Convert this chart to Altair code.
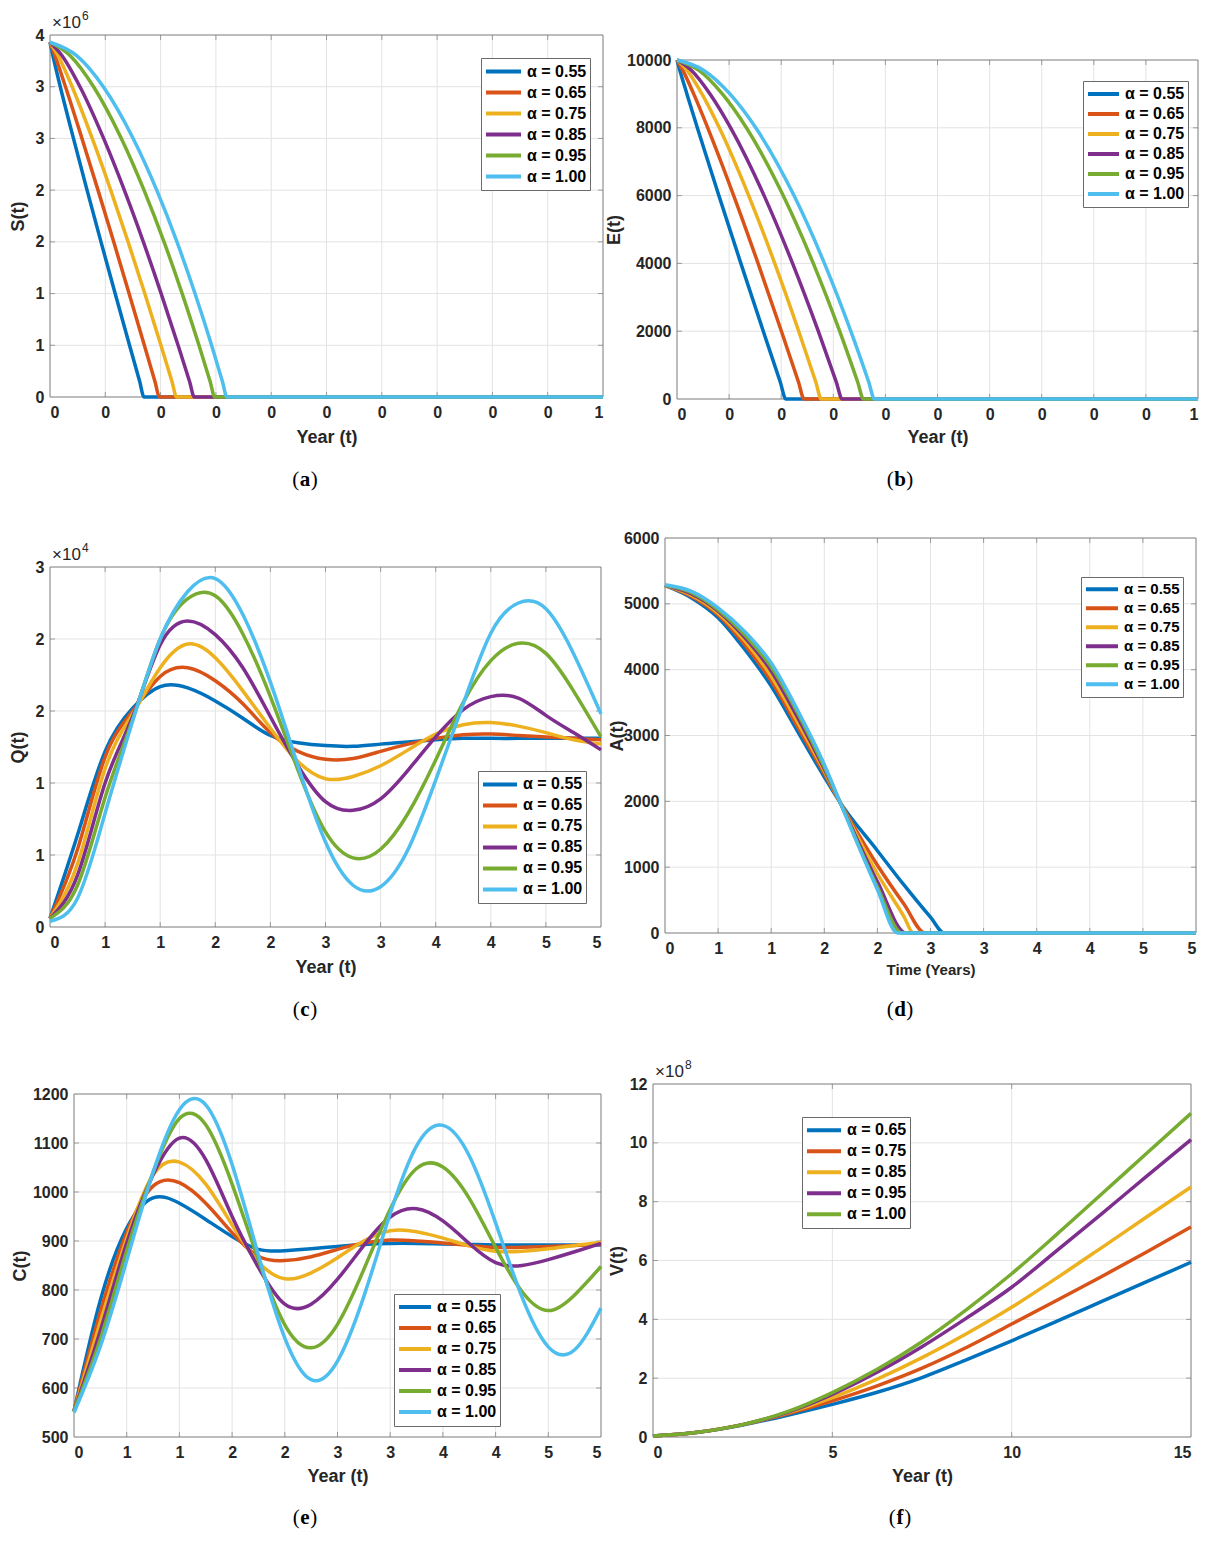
import altair as alt
import pandas as pd

W, H = 1213, 1543
FONT = "Liberation Sans"
SERIF = "Liberation Serif"
INK = "#262626"
GRID = "#e3e3e3"
FRAME = "#7a7a7a"

COLORS6 = ["#0072BD", "#D95319", "#EDB120", "#7E2F8E", "#77AC30", "#4DBEEE"]
COLORS5 = ["#0072BD", "#D95319", "#EDB120", "#7E2F8E", "#77AC30"]
LABELS6 = ["α = 0.55", "α = 0.65", "α = 0.75", "α = 0.85", "α = 0.95", "α = 1.00"]
LABELS5 = ["α = 0.65", "α = 0.75", "α = 0.85", "α = 0.95", "α = 1.00"]

# ---------------- (a) S(t), units of 1e6 ----------------
a_levels = [3.43, 3.3, 3.0, 2.5, 2.0, 1.5, 1.0, 0.5, 0.15, 0.0, 0.0]
a_t_055 = [0, 0.0026, 0.0093, 0.0212, 0.0335, 0.0461, 0.0589, 0.0719, 0.0811, 0.085, 0.5]
a_t_065 = [0, 0.0045, 0.0140, 0.0289, 0.0434, 0.0576, 0.0715, 0.0853, 0.0949, 0.099, 0.5]
a_t_075 = [0, 0.0073, 0.0200, 0.0382, 0.0549, 0.0706, 0.0857, 0.1003, 0.1103, 0.1145, 0.5]
a_t_085 = [0, 0.0109, 0.0271, 0.0485, 0.0672, 0.0844, 0.1005, 0.1158, 0.1262, 0.1305, 0.5]
a_t_095 = [0, 0.0183, 0.0394, 0.0645, 0.0850, 0.1031, 0.1195, 0.1347, 0.1448, 0.149, 0.5]
a_t_100 = [0, 0.0241, 0.0482, 0.0752, 0.0965, 0.1148, 0.1311, 0.1461, 0.1559, 0.160, 0.5]

# ---------------- (b) E(t) ----------------
b_levels = [10000, 9700, 9000, 8000, 6000, 4000, 2000, 500, 0, 0]
b_t_055 = [0, 0.0027, 0.0095, 0.0195, 0.0402, 0.0613, 0.0828, 0.0991, 0.1045, 0.5]
b_t_065 = [0, 0.0055, 0.0160, 0.0295, 0.0544, 0.0778, 0.1002, 0.1166, 0.1220, 0.5]
b_t_075 = [0, 0.0095, 0.0239, 0.0406, 0.0688, 0.0938, 0.1168, 0.1332, 0.1385, 0.5]
b_t_085 = [0, 0.0137, 0.0317, 0.0515, 0.0836, 0.1109, 0.1356, 0.1529, 0.1585, 0.5]
b_t_095 = [0, 0.0207, 0.0435, 0.0666, 0.1019, 0.1308, 0.1561, 0.1734, 0.1790, 0.5]
b_t_100 = [0, 0.0255, 0.0508, 0.0756, 0.1123, 0.1415, 0.1668, 0.1840, 0.1895, 0.5]

# ---------------- (c) Q(t), units of 1e4 ----------------
c_t = [0, 0.25, 0.5, 0.75, 1.0, 1.25, 1.5, 1.75, 2.0, 2.25, 2.5,
       2.75, 3.0, 3.25, 3.5, 3.75, 4.0, 4.25, 4.5, 4.75, 5.0]
c_v_055 = [0.06, 0.64, 1.22, 1.52, 1.67, 1.66, 1.57, 1.45, 1.33, 1.28, 1.26,
           1.255, 1.27, 1.285, 1.30, 1.31, 1.31, 1.31, 1.31, 1.31, 1.31]
c_v_065 = [0.06, 0.54, 1.18, 1.50, 1.74, 1.80, 1.71, 1.55, 1.35, 1.22, 1.165,
           1.17, 1.22, 1.27, 1.31, 1.335, 1.34, 1.33, 1.32, 1.31, 1.30]
c_v_075 = [0.06, 0.44, 1.10, 1.48, 1.80, 1.965, 1.87, 1.64, 1.38, 1.15, 1.03,
           1.045, 1.12, 1.23, 1.34, 1.405, 1.42, 1.395, 1.35, 1.30, 1.27]
c_v_085 = [0.06, 0.36, 1.00, 1.46, 1.96, 2.125, 2.03, 1.80, 1.46, 1.12, 0.87,
           0.81, 0.89, 1.09, 1.32, 1.51, 1.60, 1.59, 1.47, 1.35, 1.23]
c_v_095 = [0.06, 0.29, 0.90, 1.44, 2.00, 2.28, 2.30, 2.035, 1.60, 1.09, 0.66,
           0.48, 0.54, 0.79, 1.16, 1.56, 1.85, 1.97, 1.90, 1.64, 1.32]
c_v_100 = [0.04, 0.20, 0.79, 1.43, 2.00, 2.33, 2.42, 2.17, 1.70, 1.12, 0.59,
           0.29, 0.28, 0.54, 1.02, 1.55, 2.04, 2.25, 2.21, 1.90, 1.48]

# ---------------- (d) A(t) ----------------
d_t_055 = [0, 0.25, 0.5, 0.75, 1.0, 1.25, 1.5, 1.65, 2.0, 2.25, 2.5, 2.63, 5.0]
d_v_055 = [5280, 5090, 4790, 4310, 3750, 3060, 2370, 1980, 1250, 730, 240, 0, 0]
d_t_065 = [0, 0.25, 0.5, 0.75, 1.0, 1.25, 1.5, 1.65, 2.0, 2.25, 2.45, 5.0]
d_v_065 = [5280, 5110, 4830, 4380, 3830, 3130, 2420, 1980, 1030, 440, 0, 0]
d_t_075 = [0, 0.25, 0.5, 0.75, 1.0, 1.25, 1.5, 1.65, 2.0, 2.25, 2.34, 5.0]
d_v_075 = [5280, 5130, 4860, 4440, 3900, 3200, 2460, 1980, 900, 250, 0, 0]
d_t_085 = [0, 0.25, 0.5, 0.75, 1.0, 1.25, 1.5, 1.65, 2.0, 2.27, 5.0]
d_v_085 = [5280, 5150, 4890, 4490, 3980, 3270, 2490, 1980, 780, 0, 0]
d_t_095 = [0, 0.25, 0.5, 0.75, 1.0, 1.25, 1.5, 1.65, 2.0, 2.23, 5.0]
d_v_095 = [5280, 5170, 4910, 4530, 4040, 3340, 2520, 1980, 700, 0, 0]
d_t_100 = [0, 0.25, 0.5, 0.75, 1.0, 1.25, 1.5, 1.65, 2.0, 2.19, 5.0]
d_v_100 = [5290, 5190, 4940, 4580, 4100, 3380, 2560, 1980, 660, 0, 0]

# ---------------- (e) C(t) ----------------
e_t = [0, 0.25, 0.5, 0.75, 1.0, 1.25, 1.5, 1.75, 2.0, 2.25, 2.5,
       2.75, 3.0, 3.25, 3.5, 3.75, 4.0, 4.25, 4.5, 4.75, 5.0]
e_v_055 = [553, 779, 926, 988, 977, 944, 909, 883, 880, 884, 889,
           893, 895, 895, 894, 893, 892, 892, 892, 892, 892]
e_v_065 = [553, 755, 917, 1012, 1019, 977, 917, 869, 860, 868, 883,
           896, 902, 900, 896, 891, 887, 887, 889, 891, 893]
e_v_075 = [553, 735, 905, 1035, 1061, 1016, 933, 857, 823, 835, 866,
           900, 921, 919, 906, 890, 879, 879, 884, 891, 897]
e_v_085 = [553, 717, 896, 1035, 1110, 1066, 950, 846, 771, 771, 822,
           891, 949, 966, 941, 895, 856, 850, 862, 878, 895]
e_v_095 = [553, 700, 880, 1040, 1150, 1137, 1016, 861, 729, 682, 730,
           842, 965, 1048, 1051, 987, 887, 797, 758, 790, 848]
e_v_100 = [550, 685, 860, 1040, 1168, 1178, 1056, 871, 702, 617, 655,
           787, 956, 1094, 1136, 1074, 937, 786, 684, 678, 763]

# ---------------- (f) V(t), units of 1e8 ----------------
f_t = [0, 1.25, 2.5, 3.75, 5, 6.25, 7.5, 8.75, 10, 11.25, 12.5, 13.75, 15]
f_v_065 = [0.03, 0.16, 0.41, 0.74, 1.11, 1.52, 2.02, 2.63, 3.27, 3.93, 4.60, 5.27, 5.94]
f_v_075 = [0.03, 0.16, 0.42, 0.79, 1.23, 1.74, 2.34, 3.05, 3.84, 4.64, 5.45, 6.28, 7.14]
f_v_085 = [0.03, 0.16, 0.42, 0.82, 1.34, 1.97, 2.70, 3.52, 4.41, 5.40, 6.43, 7.47, 8.50]
f_v_095 = [0.03, 0.16, 0.42, 0.84, 1.45, 2.20, 3.07, 4.05, 5.09, 6.33, 7.58, 8.85, 10.11]
f_v_100 = [0.03, 0.16, 0.42, 0.86, 1.51, 2.30, 3.24, 4.34, 5.55, 6.88, 8.25, 9.63, 11.00]

# tick values
ticks_x_short = [0, 0.05, 0.1, 0.15, 0.2, 0.25, 0.3, 0.35, 0.4, 0.45, 0.5]
ticks_x_five = [0, 0.5, 1, 1.5, 2, 2.5, 3, 3.5, 4, 4.5, 5]
ticks_y_a = [0, 0.5, 1, 1.5, 2, 2.5, 3, 3.5]
ticks_y_b = [0, 2000, 4000, 6000, 8000, 10000]
ticks_y_c = [0, 0.5, 1, 1.5, 2, 2.5]
ticks_y_d = [0, 1000, 2000, 3000, 4000, 5000, 6000]
ticks_y_e = [500, 600, 700, 800, 900, 1000, 1100, 1200]
ticks_x_f = [0, 5, 10, 15]
ticks_y_f = [0, 2, 4, 6, 8, 10, 12]


def long_df(labels, ts, vs):
    rows = []
    for lab, tt, vv in zip(labels, ts, vs):
        for t, v in zip(tt, vv):
            rows.append({"t": t, "v": v, "s": lab})
    return pd.DataFrame(rows)


ONE = pd.DataFrame({"k": [0]})


def panel(df, labels, colors, interp, xdom, ydom, xr, yr, xticks, yticks,
          xround, yround, xtitle, ytitle, ytitle_x, xtitle_y, leg, caption,
          cap_xy, cap_w, exponent=None, xtitle_size=18, leg_font=16):
    xs = alt.Scale(domain=xdom, range=xr, nice=False, zero=False)
    ys = alt.Scale(domain=ydom, range=yr, nice=False, zero=False)
    xkw = dict(values=xticks, title=xtitle, orient="bottom", offset=yr[0] - H,
               grid=False, ticks=False, domain=False, labelPadding=7,
               titleY=xtitle_y, titleBaseline="middle", titleFontSize=xtitle_size)
    if xround:
        xkw["labelExpr"] = "'' + round(datum.value)"
    else:
        xkw["format"] = "d"
    ykw = dict(values=yticks, title=ytitle, orient="left", offset=-xr[0],
               grid=False, ticks=False, domain=False, labelPadding=6,
               titleX=ytitle_x, titleBaseline="middle")
    if yround:
        ykw["labelExpr"] = "'' + round(datum.value)"
    else:
        ykw["format"] = "d"

    gx = pd.DataFrame({"g": [v for v in xticks if xdom[0] < v < xdom[1]]})
    gy = pd.DataFrame({"g": [v for v in yticks if ydom[0] < v < ydom[1]]})
    grid_x = alt.Chart(gx).mark_rule(color=GRID, strokeWidth=1).encode(
        x=alt.X("g:Q"), y=alt.datum(ydom[0]), y2=alt.datum(ydom[1]))
    grid_y = alt.Chart(gy).mark_rule(color=GRID, strokeWidth=1).encode(
        y=alt.Y("g:Q"), x=alt.datum(xdom[0]), x2=alt.datum(xdom[1]))
    frame = alt.Chart(ONE).mark_rect(fillOpacity=0, stroke=FRAME, strokeWidth=1).encode(
        x=alt.datum(xdom[0]), x2=alt.datum(xdom[1]),
        y=alt.datum(ydom[0]), y2=alt.datum(ydom[1]))
    tick_b = alt.Chart(gx).mark_tick(orient="vertical", size=5, thickness=1,
                                     color=FRAME, yOffset=-2.5).encode(
        x=alt.X("g:Q"), y=alt.datum(ydom[0]))
    tick_t = alt.Chart(gx).mark_tick(orient="vertical", size=5, thickness=1,
                                     color=FRAME, yOffset=2.5).encode(
        x=alt.X("g:Q"), y=alt.datum(ydom[1]))
    tick_l = alt.Chart(gy).mark_tick(orient="horizontal", size=5, thickness=1,
                                     color=FRAME, xOffset=2.5).encode(
        y=alt.Y("g:Q"), x=alt.datum(xdom[0]))
    tick_r = alt.Chart(gy).mark_tick(orient="horizontal", size=5, thickness=1,
                                     color=FRAME, xOffset=-2.5).encode(
        y=alt.Y("g:Q"), x=alt.datum(xdom[1]))

    lx, ly, rowh, symlen = leg
    lines = alt.Chart(df).mark_line(strokeWidth=3.5, interpolate=interp).encode(
        x=alt.X("t:Q", scale=xs, axis=alt.Axis(**xkw)),
        y=alt.Y("v:Q", scale=ys, axis=alt.Axis(**ykw)),
        color=alt.Color("s:N", scale=alt.Scale(domain=labels, range=colors),
                        legend=alt.Legend(
                            orient="none", legendX=lx, legendY=ly, title=None,
                            symbolType="stroke", symbolStrokeWidth=4,
                            symbolSize=symlen * symlen, clipHeight=rowh,
                            rowPadding=0, labelOffset=4, padding=3,
                            labelFont=FONT, labelFontSize=leg_font,
                            labelFontWeight="bold", labelColor="black",
                            strokeColor="#6a6a6a", fillColor="white")))
    layers = [grid_x, grid_y, frame, tick_b, tick_t, tick_l, tick_r, lines]
    if exponent:
        layers.append(alt.Chart(ONE).mark_text(
            align="left", baseline="alphabetic", dx=2, dy=-7, fontSize=17,
            font=FONT, color=INK, text="×10").encode(
            x=alt.datum(xdom[0]), y=alt.datum(ydom[1])))
        layers.append(alt.Chart(ONE).mark_text(
            align="left", baseline="alphabetic", dx=32, dy=-15, fontSize=12,
            font=FONT, color=INK, text=exponent).encode(
            x=alt.datum(xdom[0]), y=alt.datum(ydom[1])))
    cx, cy = cap_xy
    half = cap_w / 2 + 0.5
    layers.append(alt.Chart(ONE).mark_text(
        align="right", baseline="middle", fontSize=21, font=SERIF, color="black",
        text="(", dx=-half).encode(x=alt.value(cx), y=alt.value(cy)))
    layers.append(alt.Chart(ONE).mark_text(
        align="center", baseline="middle", fontSize=21, font=SERIF, color="black",
        fontWeight="bold", text=caption).encode(x=alt.value(cx), y=alt.value(cy)))
    layers.append(alt.Chart(ONE).mark_text(
        align="left", baseline="middle", fontSize=21, font=SERIF, color="black",
        text=")", dx=half).encode(x=alt.value(cx), y=alt.value(cy)))
    return alt.layer(*layers)


df_a = long_df(LABELS6, [a_t_055, a_t_065, a_t_075, a_t_085, a_t_095, a_t_100],
               [a_levels] * 6)
df_b = long_df(LABELS6, [b_t_055, b_t_065, b_t_075, b_t_085, b_t_095, b_t_100],
               [b_levels] * 6)
df_c = long_df(LABELS6, [c_t] * 6,
               [c_v_055, c_v_065, c_v_075, c_v_085, c_v_095, c_v_100])
df_d = long_df(LABELS6, [d_t_055, d_t_065, d_t_075, d_t_085, d_t_095, d_t_100],
               [d_v_055, d_v_065, d_v_075, d_v_085, d_v_095, d_v_100])
df_e = long_df(LABELS6, [e_t] * 6,
               [e_v_055, e_v_065, e_v_075, e_v_085, e_v_095, e_v_100])
df_f = long_df(LABELS5, [f_t] * 5,
               [f_v_065, f_v_075, f_v_085, f_v_095, f_v_100])

pa = panel(df_a, LABELS6, COLORS6, "monotone", [0, 0.5], [0, 3.5], [50, 603], [397, 35],
           ticks_x_short, ticks_y_a, True, True, "Year (t)", "S(t)", -32, 40,
           (481, 58, 21, 35), "a", (305, 480), 10.5, exponent="6")
pb = panel(df_b, LABELS6, COLORS6, "monotone", [0, 0.5], [0, 10000], [677, 1198], [399, 60],
           ticks_x_short, ticks_y_b, True, False, "Year (t)", "E(t)", -63, 38,
           (1083, 81, 19.8, 31), "b", (900, 480), 11.5)
pc = panel(df_c, LABELS6, COLORS6, "natural", [0, 5], [0, 2.5], [50, 601], [927, 567],
           ticks_x_five, ticks_y_c, True, True, "Year (t)", "Q(t)", -32, 40,
           (478, 771, 20.9, 34), "c", (305, 1010), 9.5, exponent="4")
pd_ = panel(df_d, LABELS6, COLORS6, "monotone", [0, 5], [0, 6000], [665, 1196], [933, 538],
            ticks_x_five, ticks_y_d, True, False, "Time (Years)", "A(t)", -48, 36,
            (1081, 577, 18.7, 32), "d", (900, 1010), 11.5, xtitle_size=15, leg_font=15)
pe = panel(df_e, LABELS6, COLORS6, "natural", [0, 5], [500, 1200], [74, 601], [1437, 1094],
           ticks_x_five, ticks_y_e, True, False, "Year (t)", "C(t)", -54, 39,
           (394, 1294, 20.1, 32), "e", (305, 1518), 9.5)
pf = panel(df_f, LABELS5, COLORS5, "monotone", [0, 15], [0, 12], [653, 1191], [1437, 1084],
           ticks_x_f, ticks_y_f, False, False, "Year (t)", "V(t)", -36, 39,
           (802, 1117, 20.3, 34), "f", (900, 1518), 7.5, exponent="8")

chart = (
    alt.layer(pa, pb, pc, pd_, pe, pf)
    .resolve_scale(x="independent", y="independent", color="independent")
    .resolve_axis(x="independent", y="independent")
    .resolve_legend(color="independent")
    .properties(width=W, height=H, autosize=alt.AutoSizeParams(type="none"),
                padding=0, background="white")
    .configure_view(strokeWidth=0)
    .configure_axis(labelFont=FONT, labelFontSize=16, labelFontWeight="bold",
                    labelColor=INK, titleFont=FONT, titleFontWeight="bold",
                    titleColor=INK, titleFontSize=18)
)

chart.save("out.html", embed_options={"renderer": "svg", "actions": False})
